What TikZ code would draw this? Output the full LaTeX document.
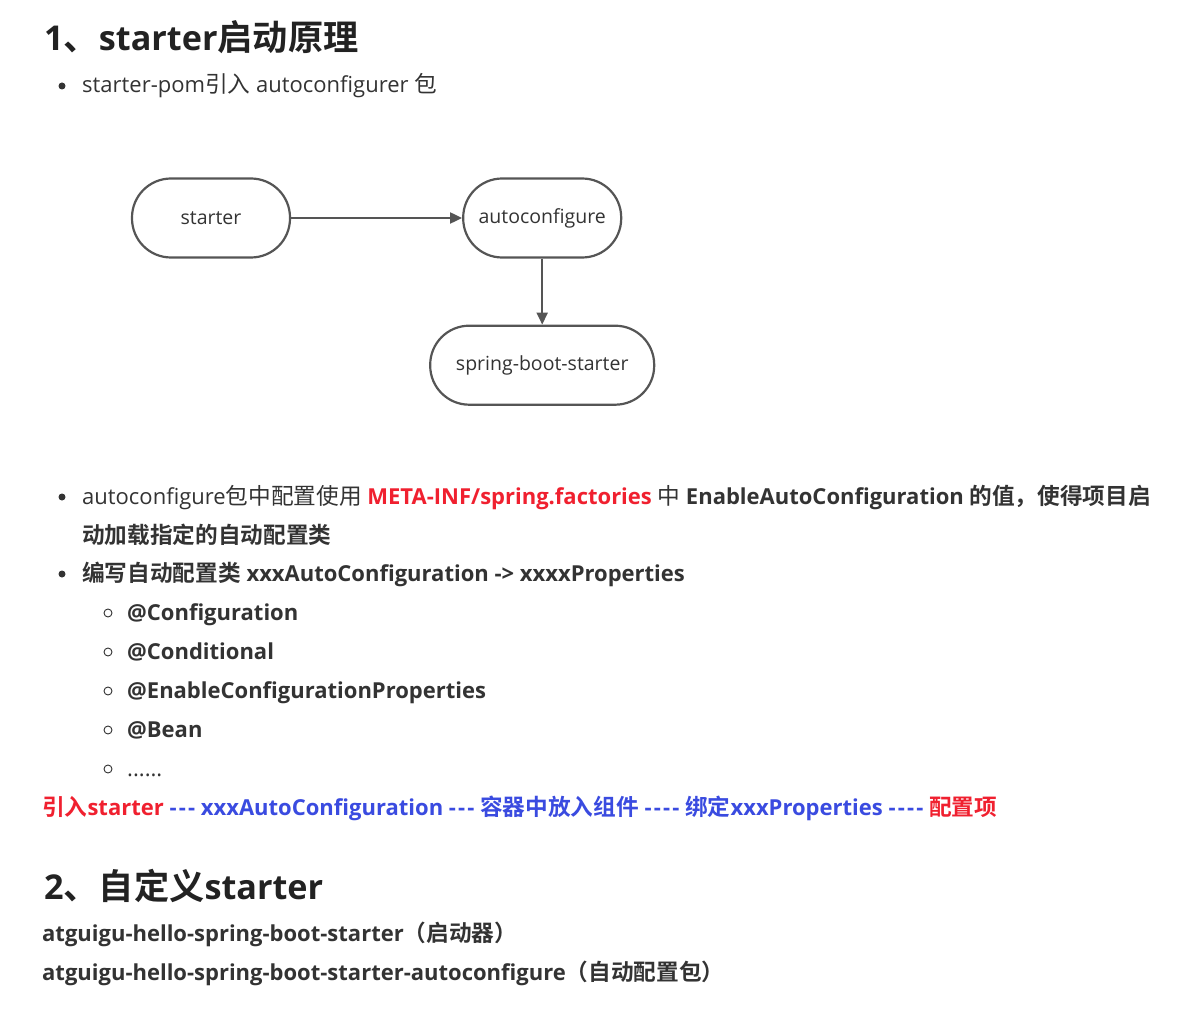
\documentclass[tikz,border=0pt]{standalone}
\usepackage{fontspec}
\setmainfont{Open Sans}
\newfontfamily\zh{Noto Sans CJK SC}[Scale=1.03,BoldFont={Noto Sans CJK SC Bold}]
\usetikzlibrary{positioning,arrows.meta}

\definecolor{txt}{HTML}{333333}
\definecolor{head}{HTML}{222222}
\definecolor{hred}{HTML}{F0202F}
\definecolor{hblue}{HTML}{3A4BE0}
\definecolor{edge}{HTML}{555555}

\newcommand{\hy}{-\kern2.2pt}

\tikzset{
  flow/.style={draw=edge,line width=2.2pt,rounded corners=39pt,minimum height=79pt,
    inner sep=0pt,text=txt,font=\fontsize{19.5}{19.5}\selectfont},
  link/.style={draw=edge,line width=2pt,-{Triangle[length=12pt,width=11pt]}},
  line/.style={anchor=base west,inner sep=0pt,text=txt,font=\fontsize{22}{26}\selectfont},
  bline/.style={line,font=\fontsize{22}{26}\selectfont\bfseries},
  title/.style={anchor=base west,inner sep=0pt,text=head,font=\fontsize{34.2}{40}\selectfont\bfseries},
  dot/.style={circle,fill=txt,inner sep=0pt,minimum size=7pt},
  ring/.style={circle,draw=txt,line width=0.9pt,inner sep=0pt,minimum size=8pt}
}

\begin{document}
\begin{tikzpicture}[x=1pt,y=-1pt]
    \useasboundingbox[fill=white](0,0)rectangle(1191,1016);

    % section 1
    \node[title](h1)at(44,51){1{\zh 、}starter{\zh 启动原理}};
    \node[dot](d1)at(62,86){};
    \node[line](b1)at(82,93){starter-pom{\zh 引入} autoconfigurer {\zh 包}};

    % flow
    \node[flow,minimum width=158pt](starter)at(211,218){starter};
    \node[flow,minimum width=158pt,right=171pt of starter](auto){autoconfigure};
    \node[flow,minimum width=224pt,below=66pt of auto](sbs){spring-boot-starter};
    \draw[link](starter)--(auto);
    \draw[link](auto)--(sbs);

    % bullets
    \node[dot](d2)at(62,497){};
    \node[line](b2)at(82,504){autoconfigure{\zh 包中配置使用} \textbf{\textcolor{hred}{META-INF/spring.factories}} {\zh 中} \textbf{EnableAutoConfiguration {\zh 的值，使得项目启}}};
    \node[bline](b2b)at(82,543){\zh 动加载指定的自动配置类};
    \node[dot](d3)at(62,574){};
    \node[bline](b3)at(82,581){{\zh 编写自动配置类} xxxAutoConfiguration -> xxxxProperties};

    \foreach \y/\t [count=\i] in {613/@Configuration,652/@Conditional,691/@EnableConfigurationProperties,730/@Bean}{
        \node[ring](r\i)at(108,\y){};
        \node[bline](s\i)at(127,\y+7){\t};
    }
    \node[ring](r5)at(108,769){};
    \node[line](s5)at(127,776){......};

    \node[bline](chain)at(42,815){\textcolor{hred}{{\zh 引入}starter} \textcolor{hblue}{\hy\hy- xxxAutoConfiguration \hy\hy- {\zh 容器中放入组件} \hy\hy\hy- {\zh 绑定}xxxProperties \hy\hy\hy-} \textcolor{hred}{\zh 配置项}};

    % section 2
    \node[title](h2)at(44,899){2{\zh 、自定义}starter};
    \node[bline](l1)at(42,941){atguigu-hello-spring-boot-starter{\zh （启动器）}};
    \node[bline](l2)at(42,980){atguigu-hello-spring-boot-starter-autoconfigure{\zh （自动配置包）}};

\end{tikzpicture}
\end{document}
